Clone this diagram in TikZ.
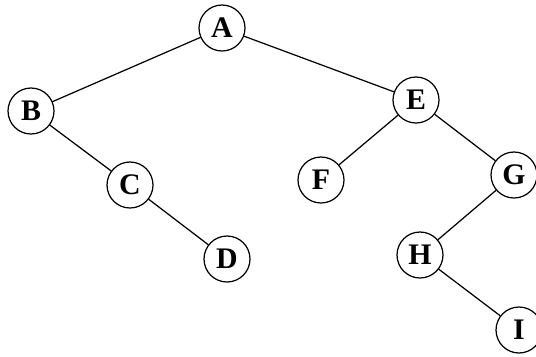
\documentclass[tikz,border=0pt]{standalone}
\usepackage{fontspec}
\setmainfont{Liberation Serif}
\usepackage{tikz}

\begin{document}
\begin{tikzpicture}[line cap=round,line join=round,x=0.02cm,y=-0.02cm,
  vertex/.style={circle,draw=black,line width=0.7pt,minimum size=0.92cm,inner sep=0pt,font=\fontsize{17}{19}\selectfont\bfseries}]
\useasboundingbox (0,0) rectangle (536,356);
\node[vertex] (A) at (222,28) {A};
\node[vertex] (B) at (31,111) {B};
\node[vertex] (C) at (130,185) {C};
\node[vertex] (D) at (227,259) {D};
\node[vertex] (E) at (416,100) {E};
\node[vertex] (F) at (321,180) {F};
\node[vertex] (G) at (514,175) {G};
\node[vertex] (H) at (420,255) {H};
\node[vertex] (I) at (519,330) {I};
\draw[line width=0.7pt] (A) -- (B);
\draw[line width=0.7pt] (A) -- (E);
\draw[line width=0.7pt] (B) -- (C);
\draw[line width=0.7pt] (C) -- (D);
\draw[line width=0.7pt] (E) -- (F);
\draw[line width=0.7pt] (E) -- (G);
\draw[line width=0.7pt] (G) -- (H);
\draw[line width=0.7pt] (H) -- (I);
\end{tikzpicture}
\end{document}
